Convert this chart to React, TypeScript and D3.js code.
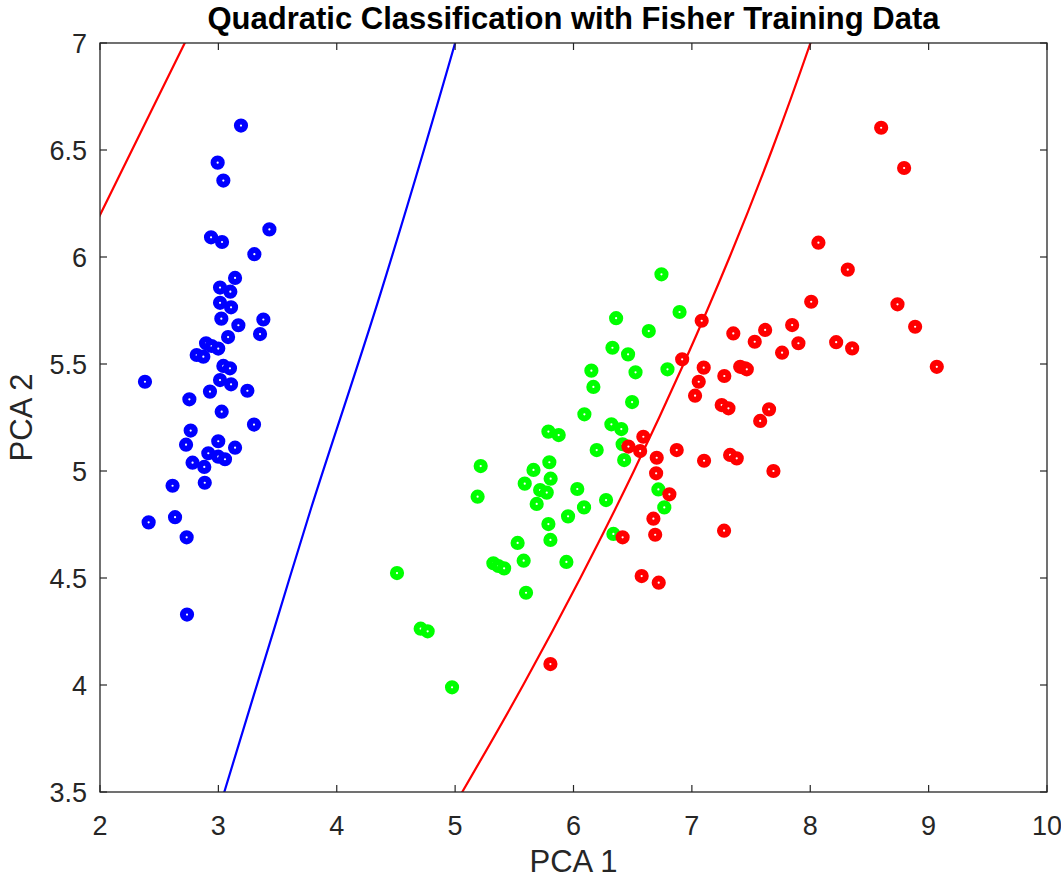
import React from "react";
import * as d3 from "d3";

const W = 1061;
const H = 879;

const blueX = [3.191, 2.994, 3.042, 3.431, 2.938, 3.031, 3.304, 3.141, 3.014, 3.101, 3.014, 3.107, 3.025, 3.38, 3.169, 3.352, 3.082, 2.896, 2.943, 2.999, 2.817, 2.873, 3.042, 3.098, 2.38, 3.014, 3.107, 2.929, 3.245, 2.755, 3.028, 3.301, 2.766, 2.727, 2.999, 3.141, 2.915, 2.999, 3.056, 2.782, 2.881, 2.885, 2.613, 2.634, 2.411, 2.732, 2.735];
const blueY = [6.614, 6.441, 6.357, 6.129, 6.092, 6.07, 6.013, 5.902, 5.857, 5.838, 5.786, 5.765, 5.712, 5.708, 5.681, 5.64, 5.626, 5.597, 5.584, 5.572, 5.542, 5.534, 5.491, 5.48, 5.417, 5.425, 5.405, 5.371, 5.375, 5.335, 5.277, 5.217, 5.189, 5.123, 5.139, 5.109, 5.083, 5.067, 5.055, 5.039, 5.019, 4.945, 4.931, 4.784, 4.76, 4.69, 4.329];

const greenX = [6.36, 6.329, 6.151, 6.168, 6.092, 6.32, 5.788, 5.875, 6.196, 5.216, 5.662, 5.796, 5.807, 5.588, 5.718, 5.774, 6.032, 6.275, 5.19, 6.089, 5.689, 5.954, 5.788, 6.337, 5.805, 5.528, 5.579, 5.94, 5.323, 5.365, 5.414, 4.509, 5.599, 4.709, 4.768, 4.974, 6.743, 6.896, 6.636, 6.461, 6.524, 6.794, 6.495, 6.404, 6.415, 6.428, 6.717, 6.767];
const greenY = [5.714, 5.576, 5.469, 5.393, 5.265, 5.218, 5.184, 5.168, 5.098, 5.023, 5.005, 5.041, 4.964, 4.941, 4.911, 4.899, 4.916, 4.864, 4.88, 4.83, 4.846, 4.788, 4.752, 4.706, 4.678, 4.664, 4.581, 4.575, 4.569, 4.556, 4.545, 4.523, 4.431, 4.263, 4.251, 3.989, 5.919, 5.743, 5.654, 5.545, 5.461, 5.475, 5.322, 5.196, 5.125, 5.051, 4.914, 4.83];

const redX = [8.008, 7.083, 7.35, 7.619, 7.847, 7.531, 7.9, 7.762, 6.918, 7.1, 7.408, 7.45, 7.464, 7.274, 7.058, 7.027, 7.252, 7.309, 7.652, 7.577, 6.59, 6.464, 6.563, 6.872, 6.703, 7.103, 7.323, 7.379, 7.689, 6.698, 6.81, 6.675, 6.69, 7.272, 6.415, 6.576, 6.72, 5.805, 8.599, 8.793, 8.069, 8.317, 8.737, 8.886, 8.219, 8.354, 9.069];
const redY = [5.791, 5.702, 5.643, 5.659, 5.682, 5.604, 5.597, 5.553, 5.522, 5.483, 5.487, 5.48, 5.475, 5.444, 5.417, 5.352, 5.308, 5.293, 5.288, 5.234, 5.16, 5.114, 5.093, 5.098, 5.062, 5.048, 5.075, 5.059, 5.0, 4.989, 4.891, 4.777, 4.702, 4.721, 4.69, 4.509, 4.478, 4.098, 6.604, 6.416, 6.067, 5.941, 5.779, 5.674, 5.602, 5.573, 5.487];

// decision boundaries
const redLeftX = [1.9, 2.0, 2.716, 2.8];
const redLeftY = [6.084, 6.196, 7.0, 7.094];
const blueBoundX = [3.0, 3.05, 3.47, 3.78, 4.37, 5.0, 5.05];
const blueBoundY = [3.4, 3.5, 4.26, 4.82, 5.83, 7.0, 7.1];
const redRightX = [4.953, 5.06, 5.575, 6.058, 6.51, 6.93, 7.319, 7.676, 8.002, 8.062];
const redRightY = [3.4, 3.5, 4.0, 4.5, 5.0, 5.5, 6.0, 6.5, 7.0, 7.1];

const xTicks = [2, 3, 4, 5, 6, 7, 8, 9, 10];
const yTicks = [3.5, 4, 4.5, 5, 5.5, 6, 6.5, 7];

const title = "Quadratic Classification with Fisher Training Data";
const xLabel = "PCA 1";
const yLabel = "PCA 2";

export default function App() {
  const left = 100, right = 1047, top = 43, bottom = 792;
  const x = d3.scaleLinear().domain([2, 10]).range([left, right]);
  const y = d3.scaleLinear().domain([3.5, 7]).range([bottom, top]);
  const axisColor = "#262626";
  const font = "'Liberation Sans', Arial, Helvetica, sans-serif";
  const line = d3
    .line<[number, number]>()
    .x((d) => x(d[0]))
    .y((d) => y(d[1]))
    .curve(d3.curveCatmullRom);
  const zip = (a: number[], b: number[]) => a.map((v, i) => [v, b[i]] as [number, number]);
  const tick = 7;

  const marker = (xs: number[], ys: number[], color: string, key: string) =>
    xs.map((v, i) => (
      <circle key={key + i} cx={x(v)} cy={y(ys[i])} r={4.1} fill="#fff" stroke={color} strokeWidth={6} />
    ));

  return (
    <svg width={W} height={H} style={{ position: "absolute", left: 0, top: 0, background: "#fff" }}>
      <defs>
        <clipPath id="plotclip">
          <rect x={left} y={top} width={right - left} height={bottom - top} />
        </clipPath>
      </defs>
      <rect x={0} y={0} width={W} height={H} fill="#fff" />
      <g clipPath="url(#plotclip)">
        <path d={line(zip(redLeftX, redLeftY)) || ""} fill="none" stroke="#ff0000" strokeWidth={2.2} />
        <path d={line(zip(blueBoundX, blueBoundY)) || ""} fill="none" stroke="#0000ff" strokeWidth={2.2} />
        <path d={line(zip(redRightX, redRightY)) || ""} fill="none" stroke="#ff0000" strokeWidth={2.2} />
        {marker(blueX, blueY, "#0000ff", "b")}
        {marker(greenX, greenY, "#00ff00", "g")}
        {marker(redX, redY, "#ff0000", "r")}
      </g>
      <rect x={left} y={top} width={right - left} height={bottom - top} fill="none" stroke={axisColor} strokeWidth={1.3} />
      {xTicks.map((t) => (
        <g key={"xt" + t}>
          <line x1={x(t)} x2={x(t)} y1={bottom} y2={bottom - tick} stroke={axisColor} strokeWidth={1.2} />
          <line x1={x(t)} x2={x(t)} y1={top} y2={top + tick} stroke={axisColor} strokeWidth={1.2} />
          <text x={x(t)} y={835} textAnchor="middle" fontFamily={font} fontSize={27} fill={axisColor}>
            {t}
          </text>
        </g>
      ))}
      {yTicks.map((t) => (
        <g key={"yt" + t}>
          <line x1={left} x2={left + tick} y1={y(t)} y2={y(t)} stroke={axisColor} strokeWidth={1.2} />
          <line x1={right} x2={right - tick} y1={y(t)} y2={y(t)} stroke={axisColor} strokeWidth={1.2} />
          <text x={87} y={y(t)} dy="0.36em" textAnchor="end" fontFamily={font} fontSize={27} fill={axisColor}>
            {t}
          </text>
        </g>
      ))}
      <text x={(left + right) / 2} y={29} textAnchor="middle" fontFamily={font} fontWeight="bold" fontSize={31} fill="#000">
        {title}
      </text>
      <text x={(left + right) / 2} y={872} textAnchor="middle" fontFamily={font} fontSize={31} fill={axisColor}>
        {xLabel}
      </text>
      <text transform={`translate(32,${(top + bottom) / 2}) rotate(-90)`} textAnchor="middle" fontFamily={font} fontSize={31} fill={axisColor}>
        {yLabel}
      </text>
    </svg>
  );
}
